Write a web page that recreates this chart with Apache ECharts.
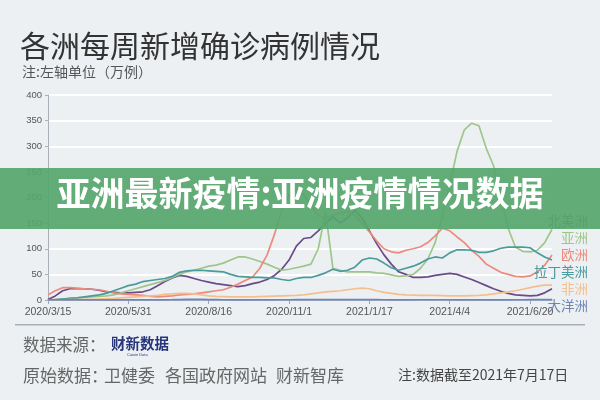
<!DOCTYPE html>
<html><head><meta charset="utf-8">
<script src="https://cdn.jsdelivr.net/npm/echarts@6/dist/echarts.min.js"></script>
<style>html,body{margin:0;padding:0;background:#ecf0f3;}#c{width:600px;height:400px;}</style>
</head><body><div id="c"></div>
<script>
var dates = ['2020/3/15','2020/3/22','2020/3/29','2020/4/5','2020/4/12','2020/4/19','2020/4/26','2020/5/3','2020/5/10','2020/5/17','2020/5/24','2020/5/31',
'2020/6/7','2020/6/14','2020/6/21','2020/6/28','2020/7/5','2020/7/12','2020/7/19','2020/7/26','2020/8/2','2020/8/9','2020/8/16',
'2020/8/23','2020/8/30','2020/9/6','2020/9/13','2020/9/20','2020/9/27','2020/10/4','2020/10/11','2020/10/18','2020/10/25','2020/11/1',
'2020/11/8','2020/11/15','2020/11/22','2020/11/29','2020/12/6','2020/12/13','2020/12/20','2020/12/27','2021/1/3','2021/1/10','2021/1/17',
'2021/1/24','2021/1/31','2021/2/7','2021/2/14','2021/2/21','2021/2/28','2021/3/7','2021/3/14','2021/3/21','2021/3/28','2021/4/4',
'2021/4/11','2021/4/18','2021/4/25','2021/5/2','2021/5/9','2021/5/16','2021/5/23','2021/5/30','2021/6/6','2021/6/13','2021/6/20',
'2021/6/27','2021/7/4','2021/7/11'];

var yTicks = [0, 50, 100, 150, 200, 250, 300, 350, 400];

var northAmerica = [1,8,18,22,22,22,21,19,16,15,14,14,15,16,20,28,36,43,48,46,42,38,35,32,30,28,26,28,32,35,
  40,48,60,78,105,120,122,135,150,162,150,160,175,160,135,110,88,70,55,50,44,44,45,48,50,52,50,45,40,34,
  28,22,17,13,10,9,8,9,14,22];
var asia = [0.5,1,2,3,4,5,6,7,8,10,14,18,22,26,30,34,38,44,50,55,58,62,66,68,72,78,84,84,80,75,
  70,64,58,60,63,66,70,100,172,62,58,55,55,55,55,53,52,49,46,47,50,62,80,112,165,225,290,332,345,340,
  296,262,200,140,103,95,94,97,112,138];
var europe = [10,18,24,24,23,22,21,20,17,14,12,11,10,9,7,6,7,8,10,11,12,14,16,18,20,25,31,38,45,62,
  88,128,175,205,215,205,185,165,160,165,170,172,165,150,133,115,100,94,92,97,100,104,112,125,140,135,123,112,97,85,
  70,62,54,50,46,45,47,55,68,88];
var latinAmerica = [0,1,2,3,4,6,8,10,13,18,23,28,31,36,38,40,42,46,54,57,58,58,57,56,55,50,46,45,44,44,
  43,43,40,38,42,44,44,48,53,60,56,58,64,78,82,80,72,63,58,62,66,72,80,84,82,92,98,98,97,93,
  93,96,101,103,103,103,102,92,84,78];
var africa = [0.1,0.3,0.5,0.8,1,1.2,1.5,2,2.5,3,4,5,6,7,8,9,11,12,13,13,12,10,8,7,6.5,6,6,6,6,6.5,
  7,7.5,8,8.5,9,10,12,14,16,17,18,20,22,23,22,18,15,13,11,10,9.5,9,9,9,8.5,8,8,8,8.5,9,
  10,12,14,16,18,21,24,27,29,29];
var oceania = [0.1,0.2,0.3,0.3,0.2,0.1,0.1,0.1,0.1,0.1,0.1,0.1,0.1,0.1,0.2,0.3,0.4,0.6,0.9,1.2,1.3,1.1,0.9,0.7,0.5,0.4,0.3,0.3,0.3,0.3,
  0.3,0.4,0.5,0.5,0.6,0.6,0.6,0.7,0.7,0.8,0.8,0.8,0.8,0.7,0.7,0.6,0.5,0.4,0.4,0.4,0.4,0.5,0.5,0.5,0.5,0.5,0.4,0.4,0.4,0.4,
  0.4,0.4,0.4,0.4,0.5,0.5,0.6,0.7,0.8,0.9];

var seriesNames = ['北美洲','亚洲','欧洲','拉丁美洲','非洲','大洋洲'];
var seriesData = [northAmerica, asia, europe, latinAmerica, africa, oceania];
var colors = ['#6a4a88','#9fc68a','#ec8a7d','#4b9a9c','#f4bf8e','#7184b2'];

var FONT = '"Noto Sans CJK SC", "Noto Sans", sans-serif';
var chart = echarts.init(document.getElementById('c'), null, {renderer: 'canvas'});

var series = seriesNames.map(function (n, k) {
  return {
    name: n, type: 'line', data: seriesData[k], showSymbol: false, symbol: 'none',
    lineStyle: {width: 1.7, color: colors[k]}, itemStyle: {color: colors[k]},
    z: 3 + (k === 5 ? 1 : 0)
  };
});

chart.setOption({
  backgroundColor: '#ecf0f3',
  animation: false,
  textStyle: {fontFamily: FONT},
  grid: {left: 48, right: 48, top: 95, bottom: 100, containLabel: false},
  xAxis: {
    type: 'category', data: dates, boundaryGap: false,
    axisLine: {show: true, lineStyle: {color: '#8797ba', width: 1.5}},
    axisTick: {show: true, interval: 10, length: 4, lineStyle: {color: '#9aa6bf'}},
    axisLabel: {interval: 10, color: '#555', fontSize: 10.5, margin: 7, fontFamily: 'Liberation Sans, Arial, sans-serif'},
    splitLine: {show: false}
  },
  yAxis: {
    type: 'value', min: 0, max: 400, interval: 50,
    axisLine: {show: true, lineStyle: {color: '#a9b0b8', width: 1}},
    axisTick: {show: true, length: 3, lineStyle: {color: '#a9b0b8'}},
    axisLabel: {color: '#555', fontSize: 9.5, margin: 6, fontFamily: 'Liberation Sans, Arial, sans-serif',
      formatter: function (v) { return yTicks.indexOf(v) >= 0 ? String(v) : ''; }},
    splitLine: {show: true, lineStyle: {color: '#ffffff', width: 2}}
  },
  legend: {
    orient: 'vertical', right: 2, top: 209, itemGap: 3.5, itemWidth: 0, itemHeight: 0,
    icon: 'none', align: 'right', selectedMode: false,
    data: seriesNames.map(function (n, k) {
      return {name: n, textStyle: {color: colors[k], fontSize: 13.5, fontFamily: FONT}};
    })
  },
  graphic: [
    {type: 'text', left: 20, top: 31, z: 10, style: {text: '各洲每周新增确诊病例情况', font: '30px ' + FONT, fill: '#333'}},
    {type: 'text', left: 22, top: 65, z: 10, style: {text: '注:左轴单位（万例）', font: '14px ' + FONT, fill: '#555'}},
    {type: 'rect', left: 15, top: 324, z: 10, shape: {width: 570, height: 1.5}, style: {fill: '#a8afb6'}},
    {type: 'text', left: 23, top: 336, z: 10, style: {text: '数据来源：', font: '16.5px ' + FONT, fill: '#666'}},
    {type: 'text', left: 111, top: 336, z: 10, style: {text: '财新数据', font: 'bold 14.5px ' + FONT, fill: '#27367a'}},
    {type: 'text', left: 127, top: 353, z: 10, style: {text: 'Caixin Data', font: '4px sans-serif', fill: '#27367a'}},
    {type: 'text', left: 23, top: 367, z: 10, style: {text: '原始数据：', font: '17px ' + FONT, fill: '#666'}},
    {type: 'text', left: 104, top: 367, z: 10, style: {text: '卫健委', font: '17px ' + FONT, fill: '#666'}},
    {type: 'text', left: 165, top: 367, z: 10, style: {text: '各国政府网站', font: '17px ' + FONT, fill: '#666'}},
    {type: 'text', left: 276, top: 367, z: 10, style: {text: '财新智库', font: '17px ' + FONT, fill: '#666'}},
    {type: 'text', left: 398, top: 368, z: 10, style: {text: '注:数据截至2021年7月17日', font: '14px ' + FONT, fill: '#444'}},
    {type: 'rect', left: 0, top: 168, z: 100, shape: {width: 600, height: 61}, style: {fill: 'rgba(86,166,108,0.92)'}},
    {type: 'text', left: 'center', top: 176, z: 101, style: {text: '亚洲最新疫情:亚洲疫情情况数据', font: 'bold 34px ' + FONT, fill: '#ffffff'}}
  ],
  series: series
});
</script>
</body></html>
